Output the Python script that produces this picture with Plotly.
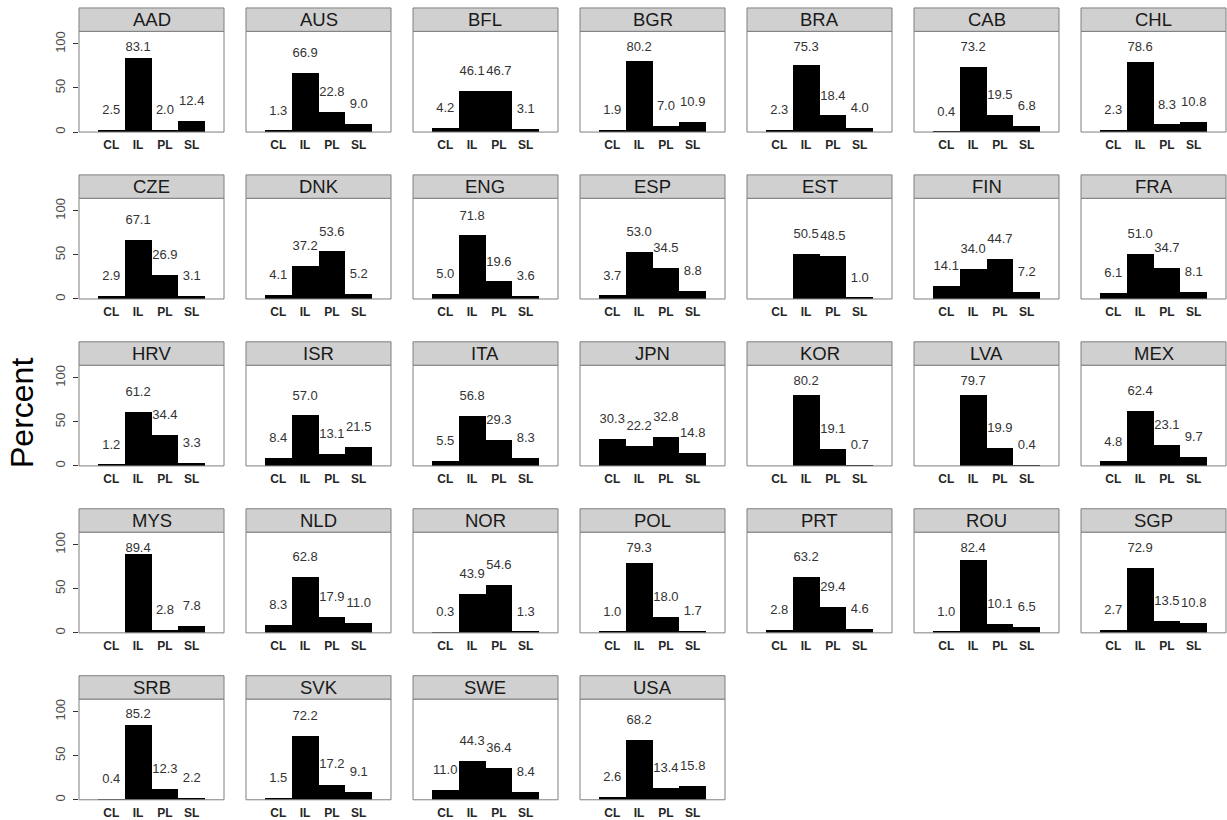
import plotly.graph_objects as go

countries = ["AAD", "AUS", "BFL", "BGR", "BRA", "CAB", "CHL",
             "CZE", "DNK", "ENG", "ESP", "EST", "FIN", "FRA",
             "HRV", "ISR", "ITA", "JPN", "KOR", "LVA", "MEX",
             "MYS", "NLD", "NOR", "POL", "PRT", "ROU", "SGP",
             "SRB", "SVK", "SWE", "USA"]
categories = ["CL", "IL", "PL", "SL"]
cl = [2.5, 1.3, 4.2, 1.9, 2.3, 0.4, 2.3,
      2.9, 4.1, 5.0, 3.7, None, 14.1, 6.1,
      1.2, 8.4, 5.5, 30.3, None, None, 4.8,
      None, 8.3, 0.3, 1.0, 2.8, 1.0, 2.7,
      0.4, 1.5, 11.0, 2.6]
il = [83.1, 66.9, 46.1, 80.2, 75.3, 73.2, 78.6,
      67.1, 37.2, 71.8, 53.0, 50.5, 34.0, 51.0,
      61.2, 57.0, 56.8, 22.2, 80.2, 79.7, 62.4,
      89.4, 62.8, 43.9, 79.3, 63.2, 82.4, 72.9,
      85.2, 72.2, 44.3, 68.2]
pl = [2.0, 22.8, 46.7, 7.0, 18.4, 19.5, 8.3,
      26.9, 53.6, 19.6, 34.5, 48.5, 44.7, 34.7,
      34.4, 13.1, 29.3, 32.8, 19.1, 19.9, 23.1,
      2.8, 17.9, 54.6, 18.0, 29.4, 10.1, 13.5,
      12.3, 17.2, 36.4, 13.4]
sl = [12.4, 9.0, 3.1, 10.9, 4.0, 6.8, 10.8,
      3.1, 5.2, 3.6, 8.8, 1.0, 7.2, 8.1,
      3.3, 21.5, 8.3, 14.8, 0.7, 0.4, 9.7,
      7.8, 11.0, 1.3, 1.7, 4.6, 6.5, 10.8,
      2.2, 9.1, 8.4, 15.8]
y_ticks = [0, 50, 100]

W, H = 1227, 820
NCOL = 7
COL_X0, COL_STEP, PW = 79, 167, 145
ROW_Y0, ROW_STEP, STRIP_H, PLOT_H = 8, 167.75, 23.5, 101.2
Y_MAX = 114.3
LABEL_OFFSET, LABEL_CAP = 22, 96
BORDER = "#7F7F7F"
FONT = "Liberation Sans, Arial, sans-serif"

fig = go.Figure()
shapes = []
annotations = []
layout_axes = {}

for i, name in enumerate(countries):
    r, c = divmod(i, NCOL)
    n = i + 1
    xa = "x" if n == 1 else f"x{n}"
    ya = "y" if n == 1 else f"y{n}"
    vals = [cl[i], il[i], pl[i], sl[i]]
    cats = [k for k, v in zip(categories, vals) if v is not None]
    vs = [v for v in vals if v is not None]

    fig.add_trace(go.Bar(x=cats, y=vs, xaxis=xa, yaxis=ya, width=1,
                         marker=dict(color="black", line=dict(width=0)),
                         showlegend=False, hoverinfo="skip"))
    fig.add_trace(go.Scatter(x=cats, y=[min(v + LABEL_OFFSET, LABEL_CAP) for v in vs],
                             text=[f"{v:.1f}" for v in vs], mode="text",
                             textposition="middle center",
                             textfont=dict(family=FONT, size=13, color="#333333"),
                             xaxis=xa, yaxis=ya, showlegend=False, hoverinfo="skip",
                             cliponaxis=False))

    x0 = COL_X0 + COL_STEP * c
    x1 = x0 + PW
    top = ROW_Y0 + ROW_STEP * r
    strip_bot = top + STRIP_H
    bot = strip_bot + PLOT_H

    fx0, fx1 = x0 / W, x1 / W
    fy_top, fy_sb, fy_bot = 1 - top / H, 1 - strip_bot / H, 1 - bot / H

    layout_axes["xaxis" if n == 1 else f"xaxis{n}"] = dict(
        domain=[fx0, fx1], anchor=ya, type="category",
        categoryorder="array", categoryarray=categories,
        range=[-1.2, 4.2], showgrid=False, zeroline=False, showline=False,
        ticks="outside", ticklen=2, tickcolor="rgba(0,0,0,0)",
        tickfont=dict(family=FONT, size=12, color="#262626", weight="bold"),
        fixedrange=True)
    layout_axes["yaxis" if n == 1 else f"yaxis{n}"] = dict(
        domain=[fy_bot, fy_sb], anchor=xa, range=[0, Y_MAX],
        showgrid=False, zeroline=False, showline=False,
        tickvals=y_ticks, showticklabels=(c == 0),
        ticks="outside" if c == 0 else "", ticklen=5, tickcolor="#333333",
        tickangle=-90, ticklabelstandoff=3,
        tickfont=dict(family=FONT, size=13, color="#4D4D4D"),
        fixedrange=True)

    shapes.append(dict(type="rect", xref="paper", yref="paper",
                       x0=fx0, x1=fx1, y0=fy_bot, y1=fy_sb,
                       line=dict(color=BORDER, width=1), layer="above"))
    shapes.append(dict(type="rect", xref="paper", yref="paper",
                       x0=fx0, x1=fx1, y0=fy_sb, y1=fy_top,
                       fillcolor="#D0D0D0", line=dict(color=BORDER, width=1),
                       layer="above"))
    annotations.append(dict(text=name, xref="paper", yref="paper",
                            x=(fx0 + fx1) / 2, y=(fy_top + fy_sb) / 2,
                            xanchor="center", yanchor="middle", showarrow=False,
                            font=dict(family=FONT, size=18.5, color="#1A1A1A")))

annotations.append(dict(text="Percent", xref="paper", yref="paper",
                        x=22 / W, y=1 - 415 / H, textangle=-90,
                        xanchor="center", yanchor="middle", showarrow=False,
                        font=dict(family=FONT, size=32, color="black")))

fig.update_layout(width=W, height=H, margin=dict(l=0, r=0, t=0, b=0),
                  paper_bgcolor="white", plot_bgcolor="white",
                  bargap=0, shapes=shapes, annotations=annotations,
                  **layout_axes)

fig.write_html("out.html")
